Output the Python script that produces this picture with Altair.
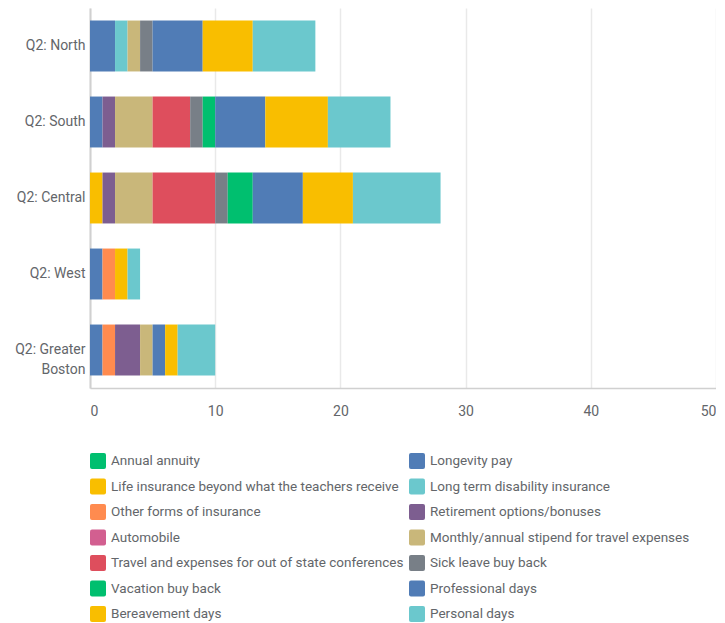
import altair as alt
import pandas as pd

regions = ["Q2: North", "Q2: South", "Q2: Central", "Q2: West", "Q2: Greater Boston"]

series = [
    "Annual annuity",
    "Longevity pay",
    "Life insurance beyond what the teachers receive",
    "Long term disability insurance",
    "Other forms of insurance",
    "Retirement options/bonuses",
    "Automobile",
    "Monthly/annual stipend for travel expenses",
    "Travel and expenses for out of state conferences",
    "Sick leave buy back",
    "Vacation buy back",
    "Professional days",
    "Bereavement days",
    "Personal days",
]

colors = [
    "#00BF6F", "#507CB6", "#F9BE00", "#6BC8CD", "#FF8B4F", "#7D5E90", "#D25F90",
    "#C9B77A", "#DE4E5D", "#787F87", "#00BF6F", "#507CB6", "#F9BE00", "#6BC8CD",
]

# values per series, in the order of `regions`
values = [
    [0, 0, 0, 0, 0],  # Annual annuity
    [2, 1, 0, 1, 1],  # Longevity pay
    [0, 0, 1, 0, 0],  # Life insurance
    [1, 0, 0, 0, 0],  # Long term disability
    [0, 0, 0, 1, 1],  # Other forms of insurance
    [0, 1, 1, 0, 2],  # Retirement options/bonuses
    [0, 0, 0, 0, 0],  # Automobile
    [1, 3, 3, 0, 1],  # Monthly/annual stipend
    [0, 3, 5, 0, 0],  # Travel and expenses
    [1, 1, 1, 0, 0],  # Sick leave buy back
    [0, 1, 2, 0, 0],  # Vacation buy back
    [4, 4, 4, 0, 1],  # Professional days
    [4, 5, 4, 1, 1],  # Bereavement days
    [5, 5, 7, 1, 3],  # Personal days
]

rows = []
for i, (s, vals) in enumerate(zip(series, values)):
    for r, v in zip(regions, vals):
        if v > 0:
            rows.append({"region": r, "series": s, "idx": i, "value": v})
df = pd.DataFrame(rows)

# legend is filled column by column: interleave so it reads row by row
legend_order = [series[i] for i in range(0, len(series), 2)] + [series[i] for i in range(1, len(series), 2)]
legend_colors = [colors[series.index(s)] for s in legend_order]

FONT = "Roboto"
TXT = "#63666a"
FS = 14
LFS = 13.5
rounded_sq = "M-0.75,-1H0.75Q1,-1,1,-0.75V0.75Q1,1,0.75,1H-0.75Q-1,1,-1,0.75V-0.75Q-1,-1,-0.75,-1Z"

chart = (
    alt.Chart(df)
    .mark_bar()
    .encode(
        x=alt.X(
            "value:Q",
            stack="zero",
            scale=alt.Scale(domain=[0, 50], nice=False),
            axis=alt.Axis(
                title=None, values=[0, 10, 20, 30, 40, 50], ticks=False,
                grid=True, gridColor="#e9e9e9", gridWidth=1.5,
                domainColor="#d0d0d0", domainWidth=1.5,
                labelPadding=16, labelFontSize=FS, labelColor=TXT, labelFont=FONT,
            ),
        ),
        y=alt.Y(
            "region:N",
            sort=regions,
            scale=alt.Scale(paddingInner=0.33, paddingOuter=0.165),
            axis=alt.Axis(
                title=None, ticks=False, grid=False,
                domainColor="#d0d0d0", domainWidth=2,
                labelPadding=5, labelFontSize=FS, labelColor=TXT, labelFont=FONT,
                labelLineHeight=19.5,
                labelExpr="datum.label == 'Q2: Greater Boston' ? ['Q2: Greater', 'Boston'] : datum.label",
            ),
        ),
        color=alt.Color(
            "series:N",
            scale=alt.Scale(domain=legend_order, range=legend_colors),
            legend=alt.Legend(
                title=None, orient="bottom", direction="vertical", columns=2,
                symbolType=rounded_sq, symbolSize=256, symbolStrokeWidth=0,
                labelFontSize=LFS, labelColor=TXT, labelFont=FONT, labelLimit=600,
                labelOffset=5, rowPadding=9.5, columnPadding=5, offset=35,
            ),
        ),
        order=alt.Order("idx:Q"),
    )
    .properties(width=626, height=380, padding={"left": 6, "top": 0, "right": 0, "bottom": 0})
    .configure_view(stroke=None)
)

chart.save("out.html", embed_options={"renderer": "svg", "actions": False})
